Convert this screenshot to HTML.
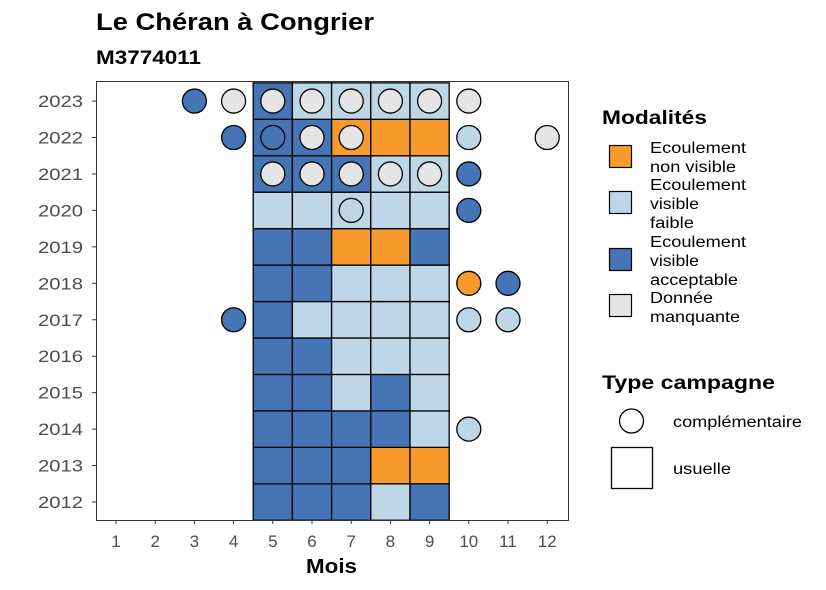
<!DOCTYPE html>
<html><head><meta charset="utf-8"><style>
body{margin:0;background:#fff;}
svg{display:block;font-family:"Liberation Sans",sans-serif;}
</style></head><body>
<svg id="chart" width="826" height="590" viewBox="0 0 826 590">
<text x="96" y="30" font-size="24" font-weight="bold" fill="#000" textLength="278" lengthAdjust="spacingAndGlyphs">Le Chéran à Congrier</text>
<text x="96" y="64" font-size="19" font-weight="bold" fill="#000" textLength="105" lengthAdjust="spacingAndGlyphs">M3774011</text>
<g id="plot"></g>
<text x="306" y="573" font-size="20" font-weight="bold" textLength="51" lengthAdjust="spacingAndGlyphs">Mois</text>
<g>
<text x="602" y="124" font-size="19" font-weight="bold" textLength="105" lengthAdjust="spacingAndGlyphs">Modalités</text>
<rect x="609.5" y="145.5" width="22" height="22" fill="#F89A2C" stroke="#000" stroke-width="1.2"/>
<text x="650" y="153" font-size="15.5"><tspan x="650" textLength="96" lengthAdjust="spacingAndGlyphs">Ecoulement</tspan><tspan x="650" dy="19" textLength="86" lengthAdjust="spacingAndGlyphs">non visible</tspan></text>
<rect x="609.5" y="191.5" width="22" height="22" fill="#BDD7E7" stroke="#000" stroke-width="1.2"/>
<text x="650" y="190" font-size="15.5"><tspan x="650" textLength="96" lengthAdjust="spacingAndGlyphs">Ecoulement</tspan><tspan x="650" dy="19" textLength="49" lengthAdjust="spacingAndGlyphs">visible</tspan><tspan x="650" dy="19" textLength="44" lengthAdjust="spacingAndGlyphs">faible</tspan></text>
<rect x="609.5" y="248.5" width="22" height="22" fill="#4575B4" stroke="#000" stroke-width="1.2"/>
<text x="650" y="247" font-size="15.5"><tspan x="650" textLength="96" lengthAdjust="spacingAndGlyphs">Ecoulement</tspan><tspan x="650" dy="19" textLength="49" lengthAdjust="spacingAndGlyphs">visible</tspan><tspan x="650" dy="19" textLength="88" lengthAdjust="spacingAndGlyphs">acceptable</tspan></text>
<rect x="609.5" y="294.5" width="22" height="22" fill="#E5E5E5" stroke="#000" stroke-width="1.2"/>
<text x="650" y="303" font-size="15.5"><tspan x="650" textLength="63" lengthAdjust="spacingAndGlyphs">Donnée</tspan><tspan x="650" dy="19" textLength="90" lengthAdjust="spacingAndGlyphs">manquante</tspan></text>
</g>
<g>
<text x="602" y="389" font-size="19" font-weight="bold" textLength="173" lengthAdjust="spacingAndGlyphs">Type campagne</text>
<circle cx="631.5" cy="421" r="12" fill="#fff" stroke="#000" stroke-width="1.3"/>
<text x="673" y="427" font-size="15.5" textLength="129" lengthAdjust="spacingAndGlyphs">complémentaire</text>
<rect x="611.5" y="447.5" width="41" height="41" fill="#fff" stroke="#000" stroke-width="1.3"/>
<text x="673" y="474" font-size="15.5" textLength="58" lengthAdjust="spacingAndGlyphs">usuelle</text>
</g>
</svg>
<script>
const months=[1,2,3,4,5,6,7,8,9,10,11,12];
const years=[2012,2013,2014,2015,2016,2017,2018,2019,2020,2021,2022,2023];
const tileMonths=[5,6,7,8,9];
// usuelle tiles per year (months 5..9): A=acceptable, F=faible, N=non visible, M=manquante
const tiles2023=["A","F","F","F","F"];
const tiles2022=["A","A","N","N","N"];
const tiles2021=["A","A","A","F","F"];
const tiles2020=["F","F","F","F","F"];
const tiles2019=["A","A","N","N","A"];
const tiles2018=["A","A","F","F","F"];
const tiles2017=["A","F","F","F","F"];
const tiles2016=["A","A","F","F","F"];
const tiles2015=["A","A","F","A","F"];
const tiles2014=["A","A","A","A","F"];
const tiles2013=["A","A","A","N","N"];
const tiles2012=["A","A","A","F","A"];
const tileRows={2023:tiles2023,2022:tiles2022,2021:tiles2021,2020:tiles2020,2019:tiles2019,2018:tiles2018,2017:tiles2017,2016:tiles2016,2015:tiles2015,2014:tiles2014,2013:tiles2013,2012:tiles2012};
// complementaire points: [year, month, modalite]
const circleYears=[2023,2023,2023,2023,2023,2023,2023,2023,2022,2022,2022,2022,2022,2022,2021,2021,2021,2021,2021,2021,2020,2020,2018,2018,2017,2017,2017,2014];
const circleMonths=[3,4,5,6,7,8,9,10,4,5,6,7,10,12,5,6,7,8,9,10,7,10,10,11,4,10,11,10];
const circleMods=["A","M","M","M","M","M","M","M","A","A","M","M","F","M","M","M","M","M","M","A","F","A","N","A","A","F","F","F"];
const colors={N:"#F89A2C",F:"#BDD7E7",A:"#4575B4",M:"#E5E5E5"};
const NS="http://www.w3.org/2000/svg";
const L=96,R=568,T=81,B=520;
const xs=m=>116+(m-1)*39.2;
const ys=y=>502-(y-2012)*36.45;
const plot=document.getElementById('plot');
function mk(tag,attrs,parent){const e=document.createElementNS(NS,tag);for(const k in attrs)e.setAttribute(k,attrs[k]);(parent||plot).appendChild(e);return e;}
const bg=mk('rect',{x:L+0.5,y:T+0.5,width:R-L,height:B-T,fill:'#fff',stroke:'none'});


years.forEach(y=>{tileRows[y].forEach((v,i)=>{const m=tileMonths[i];
const r=mk('rect',{x:xs(m)-19.6,y:ys(y)-18.2,width:39.2,height:36.45,fill:colors[v],stroke:'#000','stroke-width':1.3});

});});
circleYears.forEach((y,i)=>{const c=mk('circle',{cx:xs(circleMonths[i]),cy:ys(y),r:12,fill:colors[circleMods[i]],stroke:'#000','stroke-width':1.3});

});
const fr=mk('rect',{x:L+0.5,y:T+0.5,width:R-L,height:B-T,fill:'none',stroke:'#333','stroke-width':1});


months.forEach(m=>{const t=mk('line',{x1:xs(m),x2:xs(m),y1:B,y2:B+4,stroke:'#333','stroke-width':1});


const lb=mk('text',{x:xs(m),y:B+27,'font-size':17,'text-anchor':'middle',fill:'#4d4d4d'});lb.textContent=m;

});
years.forEach(y=>{const t=mk('line',{x1:L-4,x2:L,y1:ys(y),y2:ys(y),stroke:'#333','stroke-width':1});


const lb=mk('text',{x:38,y:ys(y)+6,'font-size':16.5,fill:'#4d4d4d',textLength:45,lengthAdjust:'spacingAndGlyphs'});lb.textContent=y;

});
</script>
</body></html>
